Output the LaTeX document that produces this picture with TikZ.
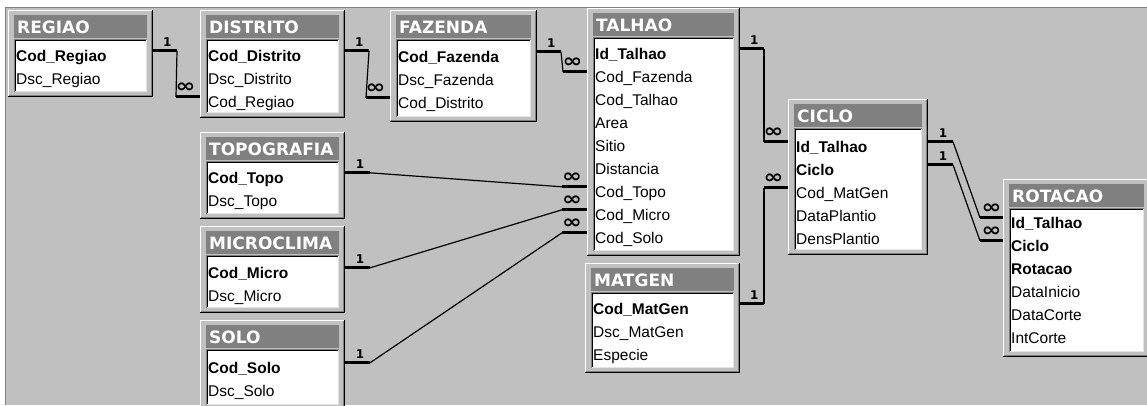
\documentclass[tikz,border=0pt]{standalone}
\usepackage{fontspec}
\setmainfont{Liberation Sans}
\newfontfamily\titulofonte{DejaVu Sans}
\usetikzlibrary{positioning,calc}

\definecolor{fundo}{HTML}{C0C0C0}
\definecolor{barra}{HTML}{808080}
\definecolor{claro}{HTML}{E4E4E4}

\tikzset{
	campo/.style={anchor=base west, inner sep=0pt, text height=10pt, text depth=3pt, font=\fontsize{15.5}{18}\selectfont},
	chave/.style={campo, font=\fontsize{15.5}{18}\selectfont\bfseries},
	titulo/.style={anchor=west, inner sep=0pt, text=white, font=\titulofonte\bfseries\fontsize{17}{17}\selectfont},
	moldura/.style={anchor=north west, inner sep=0pt, outer sep=0pt, fill=fundo},
	lado/.style={line width=3pt},
	meio/.style={line width=1.2pt},
	um/.style={inner sep=0pt, font=\titulofonte\bfseries\fontsize{12}{12}\selectfont},
	muitos/.style={inner sep=0pt, font=\titulofonte\bfseries\fontsize{19}{19}\selectfont},
}

% tabela: nome, x1, y1, x2, y2, titulo
\newcommand{\tabela}[6]{%
	\node[moldura, minimum width={(#4)-(#2)}, minimum height={(#5)-(#3)}] (#1) at (#2,#3) {};
	\draw[white] (#2+0.5,#5-1) -- (#2+0.5,#3+0.5) -- (#4-1,#3+0.5);
	\draw[barra] (#2+1,#5-1.5) -- (#4-1.5,#5-1.5) -- (#4-1.5,#3+1);
	\draw[black] (#2,#5-0.5) -- (#4-0.5,#5-0.5) -- (#4-0.5,#3);
	\fill[barra] (#2+6,#3+5) rectangle (#4-6,#3+28);
	\fill[white] (#2+7,#3+30) rectangle (#4-6,#5-5);
	\draw[barra] (#2+6.5,#5-5) -- (#2+6.5,#3+29.5) -- (#4-6,#3+29.5);
	\draw[black] (#2+7.5,#5-6) -- (#2+7.5,#3+30.5) -- (#4-7,#3+30.5);
	\draw[claro] (#2+8,#5-5.5) -- (#4-6.5,#5-5.5) -- (#4-6.5,#3+31);
	\node[titulo] (#1-t) at (#2+9,#3+17) {#6};
}

\begin{document}
\begin{tikzpicture}[x=1pt,y=-1pt]
	\useasboundingbox (0,0) rectangle (1147,405);
	\fill[white] (0,0) rectangle (1147,405);
	\fill[fundo] (5,7) rectangle (1147,405);
	\draw[barra, line width=1pt] (5.5,405) -- (5.5,7.5) -- (1147,7.5);

	% tabelas
	\tabela{regiao}{8}{10}{153}{97}{REGIAO}
	\node[chave] (rg1) at (16,61) {Cod\_Regiao};
	\node[campo] (rg2) at (16,84) {Dsc\_Regiao};

	\tabela{distrito}{200}{10}{345}{118}{DISTRITO}
	\node[chave] (di1) at (208,61) {Cod\_Distrito};
	\node[campo] (di2) at (208,84) {Dsc\_Distrito};
	\node[campo] (di3) at (208,107) {Cod\_Regiao};

	\tabela{fazenda}{390}{10}{537}{122}{FAZENDA}
	\node[chave] (fa1) at (398,62) {Cod\_Fazenda};
	\node[campo] (fa2) at (398,85) {Dsc\_Fazenda};
	\node[campo] (fa3) at (398,108) {Cod\_Distrito};

	\tabela{talhao}{587}{8}{740}{256}{TALHAO}
	\node[chave] (ta1) at (595,59) {Id\_Talhao};
	\node[campo] (ta2) at (595,82) {Cod\_Fazenda};
	\node[campo] (ta3) at (595,105) {Cod\_Talhao};
	\node[campo] (ta4) at (595,128) {Area};
	\node[campo] (ta5) at (595,151) {Sitio};
	\node[campo] (ta6) at (595,174) {Distancia};
	\node[campo] (ta7) at (595,197) {Cod\_Topo};
	\node[campo] (ta8) at (595,220) {Cod\_Micro};
	\node[campo] (ta9) at (595,243) {Cod\_Solo};

	\tabela{matgen}{585}{263}{740}{373}{MATGEN}
	\node[chave] (mg1) at (593,314) {Cod\_MatGen};
	\node[campo] (mg2) at (593,337) {Dsc\_MatGen};
	\node[campo] (mg3) at (593,360) {Especie};

	\tabela{ciclo}{788}{99}{928}{255}{CICLO}
	\node[chave] (ci1) at (796,152) {Id\_Talhao};
	\node[chave] (ci2) at (796,175) {Ciclo};
	\node[campo] (ci3) at (796,198) {Cod\_MatGen};
	\node[campo] (ci4) at (796,221) {DataPlantio};
	\node[campo] (ci5) at (796,244) {DensPlantio};

	\tabela{rotacao}{1003}{179}{1150}{357}{ROTACAO}
	\node[chave] (ro1) at (1011,228) {Id\_Talhao};
	\node[chave] (ro2) at (1011,251) {Ciclo};
	\node[chave] (ro3) at (1011,274) {Rotacao};
	\node[campo] (ro4) at (1011,297) {DataInicio};
	\node[campo] (ro5) at (1011,320) {DataCorte};
	\node[campo] (ro6) at (1011,343) {IntCorte};

	\tabela{topo}{200}{132}{345}{219}{TOPOGRAFIA}
	\node[chave] (to1) at (208,183) {Cod\_Topo};
	\node[campo] (to2) at (208,206) {Dsc\_Topo};

	\tabela{micro}{200}{226}{345}{313}{MICROCLIMA}
	\node[chave] (mi1) at (208,278) {Cod\_Micro};
	\node[campo] (mi2) at (208,301) {Dsc\_Micro};

	\tabela{solo}{200}{320}{345}{410}{SOLO}
	\node[chave] (so1) at (208,373) {Cod\_Solo};
	\node[campo] (so2) at (208,396) {Dsc\_Solo};

	% relacionamentos 1 : infinito
	\draw[lado] (regiao.east |- rg1.north) -- node[um, above=3pt, pos=0.6] {1} ++(24,0) coordinate (r1a);
	\draw[lado] (distrito.west |- di3.north) -- node[muitos, above=3pt, pos=0.6] {\scalebox{1.25}[1]{∞}} ++(-24,0) coordinate (r1b);
	\draw[meio] (r1a) -- (r1b);

	\draw[lado] (distrito.east |- di1.north) -- node[um, above=3pt, pos=0.6] {1} ++(24,0) coordinate (r2a);
	\draw[lado] (fazenda.west |- fa3.north) -- node[muitos, above=3pt, pos=0.6] {\scalebox{1.25}[1]{∞}} ++(-24,0) coordinate (r2b);
	\draw[meio] (r2a) -- (r2b);

	\draw[lado] (fazenda.east |- fa1.north) -- node[um, above=3pt, pos=0.6] {1} ++(24,0) coordinate (r3a);
	\draw[lado] (talhao.west |- ta2.north) -- node[muitos, above=3pt, pos=0.6] {\scalebox{1.25}[1]{∞}} ++(-24,0) coordinate (r3b);
	\draw[meio] (r3a) -- (r3b);

	\draw[lado] (talhao.east |- ta1.north) -- node[um, above=3pt, pos=0.6] {1} ++(24,0) coordinate (r4a);
	\draw[lado] (ciclo.west |- ci1.north) -- node[muitos, above=3pt, pos=0.6] {\scalebox{1.25}[1]{∞}} ++(-24,0) coordinate (r4b);
	\draw[meio] (r4a) -- (r4b);

	\draw[lado] (matgen.east |- mg1.north) -- node[um, above=3pt, pos=0.6] {1} ++(24,0) coordinate (r5a);
	\draw[lado] (ciclo.west |- ci3.north) -- node[muitos, above=3pt, pos=0.6] {\scalebox{1.25}[1]{∞}} ++(-24,0) coordinate (r5b);
	\draw[meio] (r5a) -- (r5b);

	\draw[lado] (ciclo.east |- ci1.north) -- node[um, above=3pt, pos=0.6] {1} ++(25,0) coordinate (r6a);
	\draw[lado] (rotacao.west |- ro1.north) -- node[muitos, above=3pt, pos=0.5] {\scalebox{1.25}[1]{∞}} ++(-23,0) coordinate (r6b);
	\draw[meio] (r6a) -- (r6b);

	\draw[lado] (ciclo.east |- ci2.north) -- node[um, above=3pt, pos=0.6] {1} ++(25,0) coordinate (r7a);
	\draw[lado] (rotacao.west |- ro2.north) -- node[muitos, above=3pt, pos=0.5] {\scalebox{1.25}[1]{∞}} ++(-23,0) coordinate (r7b);
	\draw[meio] (r7a) -- (r7b);

	\draw[lado] (topo.east |- to1.north) -- node[um, above=3pt, pos=0.6] {1} ++(25,0) coordinate (r8a);
	\draw[lado] (talhao.west |- ta7.north) -- node[muitos, above=3pt, pos=0.6] {\scalebox{1.25}[1]{∞}} ++(-25,0) coordinate (r8b);
	\draw[meio] (r8a) -- (r8b);

	\draw[lado] (micro.east |- mi1.north) -- node[um, above=3pt, pos=0.6] {1} ++(25,0) coordinate (r9a);
	\draw[lado] (talhao.west |- ta8.north) -- node[muitos, above=3pt, pos=0.6] {\scalebox{1.25}[1]{∞}} ++(-25,0) coordinate (r9b);
	\draw[meio] (r9a) -- (r9b);

	\draw[lado] (solo.east |- so1.north) -- node[um, above=3pt, pos=0.6] {1} ++(25,0) coordinate (r10a);
	\draw[lado] (talhao.west |- ta9.north) -- node[muitos, above=3pt, pos=0.6] {\scalebox{1.25}[1]{∞}} ++(-25,0) coordinate (r10b);
	\draw[meio] (r10a) -- (r10b);
\end{tikzpicture}
\end{document}
